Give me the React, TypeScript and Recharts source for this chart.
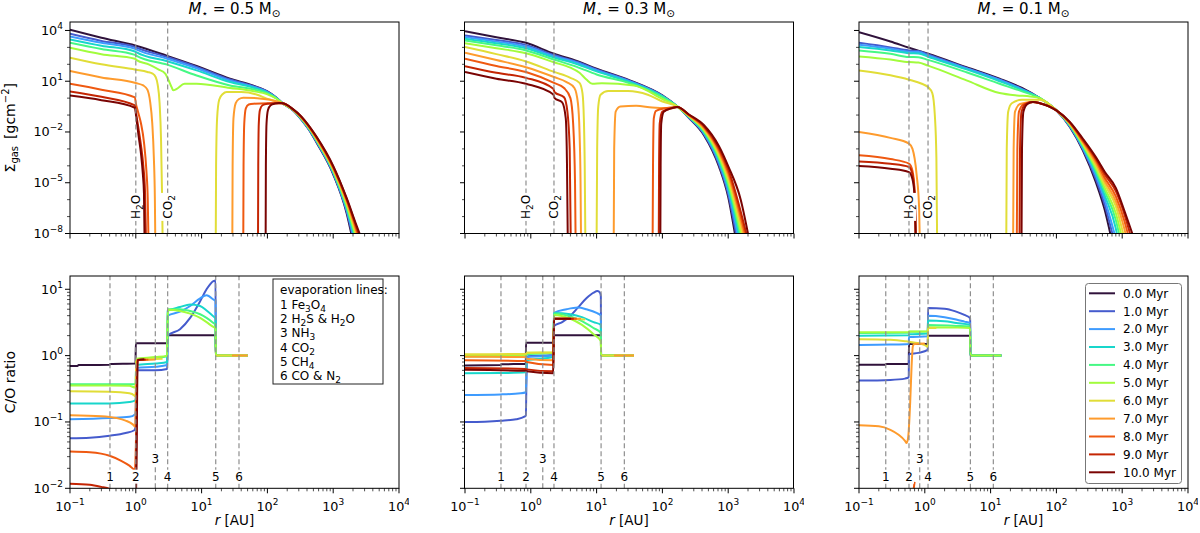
import React from 'react';
import { Legend, Line, LineChart, ReferenceLine, XAxis, YAxis } from 'recharts';

const FONT = '"DejaVu Sans", sans-serif';

// turbo colormap, one colour per snapshot
const COLORS = ['#30123b', '#455bcd', '#3e9bfe', '#18d6cb', '#46f884', '#a2fc3c', '#e1dd37', '#fe9b2d', '#ef5911', '#c42503', '#7a0403'];
const TIMES = ['0.0 Myr', '1.0 Myr', '2.0 Myr', '3.0 Myr', '4.0 Myr', '5.0 Myr', '6.0 Myr', '7.0 Myr', '8.0 Myr', '9.0 Myr', '10.0 Myr'];
const MASSES = ['0.5', '0.3', '0.1'];

// evaporation lines (AU) per stellar mass: Fe3O4, H2S&H2O, NH3, CO2, CH4, CO&N2
const EVAP_05 = [0.405, 1.0, 1.98, 3.05, 16.4, 37];
const EVAP_03 = [0.352, 0.845, 1.52, 2.25, 11.7, 26.4];
const EVAP_01 = [0.255, 0.575, 0.837, 1.12, 4.93, 11.0];
const EVAP_NAMES = ['Fe_3O_4', 'H_2S & H_2O', 'NH_3', 'CO_2', 'CH_4', 'CO & N_2'];

// Sigma_gas, stored as [r (AU), log10 Sigma]; null = gap
const SIGMA_05 = [
  [[0.1, 4.04], [0.3, 3.57], [1, 3.1], [3, 2.5], [8.4, 1.9], [27, 1.15], [60, 0.75], [100, 0.4], [135, 0.05], [170, -0.3], [250, -0.75], [316, -1.2], [450, -2.0], [563, -2.65], [1000, -4.5], [1600, -6.8], [1930, -8.2]],
  [[0.1, 3.8], [0.3, 3.38], [0.97, 3.02], [1.03, 2.98], [3, 2.43], [8.4, 1.85], [27, 1.1], [60, 0.72], [100, 0.38], [135, 0.04], [170, -0.3], [250, -0.74], [316, -1.18], [450, -1.97], [563, -2.61], [1000, -4.45], [1600, -6.7], [1990, -8.2]],
  [[0.1, 3.65], [0.3, 3.27], [0.97, 2.92], [1.03, 2.87], [3, 2.33], [8.4, 1.77], [27, 1.03], [60, 0.68], [100, 0.36], [135, 0.03], [170, -0.3], [250, -0.74], [316, -1.16], [450, -1.95], [563, -2.58], [1000, -4.4], [1600, -6.6], [2050, -8.2]],
  [[0.1, 3.47], [0.3, 3.1], [0.97, 2.76], [1.03, 2.7], [3, 2.18], [8.4, 1.64], [27, 0.95], [60, 0.63], [100, 0.33], [135, 0.02], [170, -0.3], [250, -0.73], [316, -1.15], [450, -1.92], [563, -2.54], [1000, -4.35], [1600, -6.5], [2110, -8.2]],
  [[0.1, 3.27], [0.3, 2.9], [0.97, 2.56], [1.03, 2.5], [3, 1.98], [8.4, 1.34], [27, 0.75], [60, 0.52], [100, 0.28], [135, 0.0], [170, -0.3], [250, -0.72], [316, -1.13], [450, -1.9], [563, -2.51], [1000, -4.3], [1600, -6.4], [2170, -8.2]],
  [[0.1, 2.98], [0.3, 2.6], [0.97, 2.33], [1.03, 2.25], [1.6, 1.98], [2.2, 1.7], [2.8, 1.45], [3.2, 1.0], [3.5, 0.65], [3.7, 0.46], [4.2, 0.55], [5.5, 0.85], [8.4, 0.85], [27, 0.6], [60, 0.42], [100, 0.22], [135, -0.02], [170, -0.3], [250, -0.72], [316, -1.11], [450, -1.87], [563, -2.47], [1000, -4.25], [1600, -6.3], [2230, -8.2]],
  [[0.1, 2.39], [0.3, 2.0], [1, 1.68], [1.5, 1.55], [1.8, 1.45], [2.0, 1.25], [2.15, 0.8], [2.3, -0.3], [2.42, -2.5], [2.5, -5.5], [2.56, -8.5], [8, null], [16.4, -8.5], [16.6, -4], [17.2, -1.2], [18.5, -0.1], [21, 0.25], [24, 0.36], [40, 0.36], [70, 0.2], [98, -0.03], [170, -0.3], [250, -0.71], [316, -1.09], [450, -1.85], [563, -2.44], [1000, -4.2], [1600, -6.2], [2300, -8.2]],
  [[0.1, 1.6], [0.3, 1.22], [1, 0.89], [1.3, 0.75], [1.5, 0.5], [1.65, -0.2], [1.78, -1.5], [1.88, -3.5], [1.95, -6], [1.98, -8.5], [8, null], [29.3, -8.5], [29.6, -4], [30.5, -1.2], [33, -0.3], [37, -0.05], [43, 0.03], [70, 0.0], [110, -0.1], [170, -0.3], [250, -0.7], [316, -1.08], [450, -1.82], [563, -2.4], [1000, -4.15], [1600, -6.1], [2370, -8.2]],
  [[0.1, 0.85], [0.3, 0.5], [0.97, 0.05], [1.0, -0.3], [1.08, -0.8], [1.2, -1.5], [1.33, -2.6], [1.45, -4.3], [1.52, -6], [1.56, -8.5], [8, null], [43, -8.5], [43.4, -4], [44.5, -1.5], [47, -0.6], [52, -0.38], [62, -0.33], [100, -0.3], [170, -0.3], [250, -0.7], [316, -1.06], [450, -1.8], [563, -2.37], [1000, -4.1], [1600, -6.0], [2440, -8.2]],
  [[0.1, 0.4], [0.3, 0.08], [0.97, -0.43], [1.02, -1.0], [1.1, -1.8], [1.2, -2.8], [1.3, -4.0], [1.38, -5.5], [1.43, -8.5], [8, null], [72, -8.5], [72.6, -4], [74, -1.5], [77, -0.7], [84, -0.42], [100, -0.33], [130, -0.3], [170, -0.3], [250, -0.69], [316, -1.04], [450, -1.77], [563, -2.33], [1000, -4.05], [1600, -5.95], [2530, -8.2]],
  [[0.1, 0.15], [0.3, -0.12], [0.97, -0.57], [1.02, -1.2], [1.1, -2.2], [1.2, -3.3], [1.28, -4.5], [1.33, -5.6], [1.36, -8.5], [8, null], [94, -8.5], [94.8, -4], [97, -1.5], [102, -0.7], [112, -0.42], [130, -0.32], [150, -0.29], [170, -0.3], [250, -0.68], [316, -1.02], [450, -1.75], [563, -2.3], [1000, -4.0], [1600, -5.9], [2200, -7.4], [2630, -8.2]],
];

const SIGMA_03 = [
  [[0.1, 3.96], [0.3, 3.6], [0.845, 3.27], [2.25, 2.62], [5, 2.2], [10, 1.74], [32, 1.05], [100, 0.16], [169, -0.5], [250, -1.15], [430, -2.2], [725, -4.05], [1000, -5.85], [1300, -8.3]],
  [[0.1, 3.7], [0.3, 3.43], [0.845, 3.15], [2.25, 2.55], [5, 2.15], [10, 1.7], [32, 1.02], [100, 0.14], [169, -0.5], [250, -1.13], [430, -2.14], [725, -3.93], [1000, -5.66], [1360, -8.3]],
  [[0.1, 3.61], [0.3, 3.34], [0.845, 3.05], [2.25, 2.48], [5, 2.1], [10, 1.65], [32, 0.99], [100, 0.12], [169, -0.5], [250, -1.11], [430, -2.08], [725, -3.8], [1000, -5.47], [1430, -8.3]],
  [[0.1, 3.51], [0.3, 3.24], [0.845, 2.95], [2.25, 2.4], [5, 2.02], [10, 1.58], [32, 0.95], [100, 0.1], [169, -0.5], [250, -1.09], [430, -2.02], [725, -3.68], [1000, -5.28], [1500, -8.3]],
  [[0.1, 3.41], [0.3, 3.12], [0.845, 2.82], [2.25, 2.28], [5, 1.85], [10, 1.4], [32, 0.88], [100, 0.06], [169, -0.5], [250, -1.07], [430, -1.96], [725, -3.56], [1000, -5.1], [1570, -8.3]],
  [[0.1, 3.25], [0.3, 2.95], [0.845, 2.65], [2.25, 2.12], [4, 1.8], [5.5, 1.5], [7, 1.1], [8.6, 0.85], [12, 0.88], [37, 0.75], [100, -0.05], [169, -0.5], [250, -1.05], [430, -1.9], [725, -3.44], [1000, -4.92], [1640, -8.3]],
  [[0.1, 3.02], [0.3, 2.6], [0.845, 2.17], [2.25, 1.55], [4, 1.2], [5.5, 0.9], [6.1, 0.3], [6.4, -1.2], [6.6, -4], [6.75, -8.5], [8, null], [10, -8.5], [10.2, -3], [10.6, -0.5], [11.5, 0.2], [15, 0.42], [30, 0.42], [60, 0.2], [100, -0.2], [169, -0.5], [250, -1.03], [430, -1.84], [725, -3.32], [1000, -4.74], [1720, -8.3]],
  [[0.1, 2.68], [0.3, 2.25], [0.845, 1.83], [2.25, 1.25], [3.5, 0.95], [4.6, 0.6], [5.2, -0.3], [5.5, -2], [5.7, -5], [5.8, -8.5], [8, null], [18.2, -8.5], [18.5, -3], [19.5, -0.8], [23, -0.5], [40, -0.45], [70, -0.55], [120, -0.58], [169, -0.52], [250, -1.01], [430, -1.78], [725, -3.2], [1000, -4.56], [1800, -8.3]],
  [[0.1, 2.33], [0.3, 1.9], [0.845, 1.54], [2.25, 0.9], [3.2, 0.6], [4.0, 0.0], [4.4, -1.5], [4.7, -5], [4.8, -8.5], [8, null], [71, -8.5], [72, -4], [74, -1.2], [80, -0.75], [110, -0.6], [142, -0.56], [169, -0.52], [250, -0.99], [430, -1.72], [725, -3.08], [1000, -4.38], [1880, -8.3]],
  [[0.1, 1.89], [0.3, 1.5], [0.845, 1.2], [2.2, 0.55], [2.3, 0.35], [3.2, 0.05], [3.6, -0.8], [3.9, -3], [4.05, -8.5], [8, null], [88, -8.5], [89, -4], [91, -1.5], [100, -0.8], [142, -0.58], [169, -0.52], [250, -0.97], [430, -1.66], [725, -2.96], [1000, -4.2], [1970, -8.3]],
  [[0.1, 1.54], [0.3, 1.15], [0.845, 0.85], [2.2, 0.22], [2.3, 0.0], [3.0, -0.25], [3.4, -1.2], [3.55, -4], [3.65, -8.5], [8, null], [93, -8.5], [94, -4], [96, -1.5], [105, -0.8], [142, -0.58], [169, -0.52], [250, -0.95], [430, -1.6], [725, -2.84], [1000, -4.02], [1550, -6.0], [2070, -8.3]],
];

const SIGMA_01 = [
  [[0.1, 3.9], [0.3, 3.35], [0.575, 2.98], [1.12, 2.62], [4.3, 1.83], [13.7, 1.15], [30, 0.6], [56, 0.0], [100, -0.72], [160, -1.7], [253, -3.1], [400, -5.0], [542, -6.6], [685, -8.3]],
  [[0.1, 3.27], [0.3, 3.0], [0.575, 2.82], [0.8, 2.78], [1.12, 2.58], [4.3, 1.79], [13.7, 1.1], [30, 0.55], [56, 0.0], [100, -0.72], [160, -1.67], [253, -3.03], [400, -4.8], [542, -6.3], [740, -8.3]],
  [[0.1, 3.15], [0.3, 2.92], [0.575, 2.74], [0.8, 2.72], [1.12, 2.52], [4.3, 1.76], [13.7, 1.07], [30, 0.52], [56, 0.0], [100, -0.72], [160, -1.64], [253, -2.96], [400, -4.6], [542, -6.0], [800, -8.3]],
  [[0.1, 3.02], [0.3, 2.82], [0.575, 2.66], [0.8, 2.64], [1.12, 2.45], [4.3, 1.7], [13.7, 1.0], [30, 0.48], [56, 0.0], [100, -0.72], [160, -1.61], [253, -2.89], [400, -4.45], [542, -5.75], [800, -7.7], [860, -8.3]],
  [[0.1, 2.82], [0.3, 2.62], [0.575, 2.43], [0.8, 2.42], [1.12, 2.26], [4.3, 1.53], [13.7, 0.85], [30, 0.4], [56, 0.0], [100, -0.72], [160, -1.58], [253, -2.82], [400, -4.3], [542, -5.5], [800, -7.2], [930, -8.3]],
  [[0.1, 2.46], [0.3, 2.28], [0.575, 2.13], [0.8, 2.1], [1.12, 1.92], [4.3, 1.05], [13.7, 0.3], [25, 0.16], [40, 0.1], [56, 0.0], [100, -0.72], [160, -1.55], [253, -2.75], [400, -4.15], [542, -5.3], [800, -6.8], [1000, -8.3]],
  [[0.1, 1.64], [0.3, 1.35], [0.575, 1.09], [0.9, 0.85], [1.12, 0.65], [1.3, 0.3], [1.42, -1.0], [1.5, -3.5], [1.54, -8.5], [5, null], [17.3, -8.5], [17.6, -3], [18.5, -0.8], [21, -0.3], [30, -0.1], [56, -0.1], [100, -0.72], [160, -1.52], [253, -2.68], [400, -4.0], [542, -5.1], [800, -6.4], [1080, -8.3]],
  [[0.1, -2.0], [0.3, -2.35], [0.575, -2.69], [0.65, -3.0], [0.75, -4.5], [0.82, -6.5], [0.84, -8.5], [5, null], [22, -8.5], [22.4, -3], [23.5, -0.8], [28, -0.35], [44, -0.23], [56, -0.3], [100, -0.72], [160, -1.49], [253, -2.61], [400, -3.85], [542, -4.9], [800, -6.1], [1090, -7.8], [1170, -8.3]],
  [[0.1, -3.38], [0.3, -3.6], [0.575, -3.87], [0.65, -4.3], [0.7, -5.5], [0.73, -8.5], [5, null], [25, -8.5], [25.5, -3], [27, -0.8], [32, -0.35], [44, -0.23], [56, -0.3], [100, -0.72], [160, -1.46], [253, -2.54], [400, -3.7], [542, -4.7], [800, -5.8], [1090, -7.3], [1270, -8.3]],
  [[0.1, -3.74], [0.3, -3.88], [0.575, -4.07], [0.65, -4.5], [0.7, -5.6], [0.73, -8.5], [5, null], [27.5, -8.5], [28, -3], [29.5, -0.8], [34, -0.35], [44, -0.23], [56, -0.3], [100, -0.72], [160, -1.43], [253, -2.47], [400, -3.6], [542, -4.5], [800, -5.5], [1090, -6.9], [1380, -8.3]],
  [[0.1, -4.01], [0.3, -4.17], [0.575, -4.37], [0.65, -4.8], [0.7, -5.8], [0.73, -8.5], [5, null], [29.5, -8.5], [30, -3], [31.5, -0.8], [36, -0.35], [44, -0.23], [56, -0.3], [100, -0.72], [160, -1.4], [253, -2.4], [400, -3.5], [542, -4.35], [800, -5.3], [1090, -6.7], [1510, -8.3]],
];

// C/O ratio, stored as [r (AU), C/O]; null = gap
const CO_05 = [
  [[0.1, 0.7], [0.13, 0.7], [0.135, 0.72], [0.4, 0.73], [0.41, 0.75], [0.99, 0.76], [1.0, 1.53], [3.04, 1.53], [3.05, 2.03], [16.3, 2.03], [16.4, 1.0], [50, 1.0]],
  [[0.1, 0.057], [0.2, 0.058], [0.4, 0.062], [0.7, 0.068], [0.95, 0.075], [0.99, 0.085], [1.01, 0.3], [1.03, 0.6], [2.0, 0.6], [3.0, 0.63], [3.05, 2.0], [4.7, 2.5], [6.7, 3.7], [9.5, 6.6], [11.9, 10], [15.1, 13.3], [16.3, 13.6], [16.4, 1.0], [50, 1.0]],
  [[0.1, 0.11], [0.4, 0.115], [0.8, 0.12], [0.97, 0.13], [1.0, 0.15], [1.02, 0.65], [2.0, 0.68], [3.0, 0.72], [3.05, 4.0], [4.7, 4.6], [6.7, 5.6], [9.5, 7.3], [11.9, 8.1], [15.1, 7.0], [16.3, 6.6], [16.4, 1.0], [50, 1.0]],
  [[0.1, 0.19], [0.4, 0.19], [0.8, 0.2], [0.97, 0.21], [1.0, 0.23], [1.02, 0.72], [2.0, 0.76], [3.0, 0.8], [3.05, 4.7], [4.7, 5.4], [6.7, 5.9], [9.5, 5.6], [11.9, 4.8], [15.1, 3.9], [16.3, 3.6], [16.4, 1.0], [50, 1.0]],
  [[0.1, 0.37], [0.4, 0.37], [0.8, 0.37], [0.99, 0.37], [1.02, 0.88], [2.0, 0.92], [3.0, 0.98], [3.05, 5.0], [4.7, 5.0], [6.7, 4.7], [9.5, 4.2], [11.9, 3.7], [15.1, 3.1], [16.3, 2.9], [16.4, 1.0], [50, 1.0]],
  [[0.1, 0.355], [0.4, 0.355], [0.8, 0.35], [0.99, 0.33], [1.02, 0.9], [2.0, 0.95], [3.0, 1.0], [3.05, 4.9], [4.7, 4.7], [6.7, 4.3], [9.5, 3.7], [11.9, 3.2], [15.1, 2.7], [16.3, 2.6], [16.4, 1.0], [50, 1.0]],
  [[0.1, 0.29], [0.4, 0.285], [0.8, 0.27], [0.95, 0.25], [0.99, 0.24], [1.02, 0.86], [2.55, 0.9], [8, null], [16.4, 1.0], [50, 1.0]],
  [[0.1, 0.126], [0.3, 0.122], [0.5, 0.115], [0.7, 0.105], [0.9, 0.092], [0.98, 0.085], [1.0, 0.2], [1.03, 0.85], [1.98, 0.87], [8, null], [29, 1.0], [50, 1.0]],
  [[0.1, 0.036], [0.2, 0.035], [0.4, 0.031], [0.6, 0.026], [0.8, 0.022], [0.97, 0.019], [1.02, 0.1], [1.06, 0.85], [1.55, 0.87]],
  [[0.1, 0.0117], [0.2, 0.0113], [0.3, 0.0105], [0.4, 0.0098], [0.6, 0.008], [1.0, 0.006], [1.05, 0.85], [1.42, 0.87]],
  [[0.1, 0.005], [1.0, 0.004], [1.07, 0.86], [1.35, 0.88]],
];

const CO_03 = [
  [[0.1, 0.71], [0.35, 0.72], [0.355, 0.74], [0.84, 0.75], [0.845, 1.56], [2.24, 1.56], [2.25, 2.03], [11.6, 2.03], [11.7, 1.0], [37, 1.0]],
  [[0.1, 0.1], [0.2, 0.101], [0.35, 0.104], [0.6, 0.11], [0.8, 0.12], [0.84, 0.125], [0.87, 0.8], [0.9, 0.98], [1.5, 1.0], [2.2, 1.02], [2.25, 2.8], [3, 3.2], [4, 4.0], [5.2, 5.3], [7, 7.3], [9, 8.9], [10.3, 9.4], [11.3, 8.8], [11.6, 7.9], [11.7, 1.0], [37, 1.0]],
  [[0.1, 0.255], [0.35, 0.26], [0.7, 0.27], [0.84, 0.28], [0.87, 0.8], [0.9, 0.95], [2.2, 1.0], [2.25, 4.4], [3.5, 5.0], [5.2, 5.3], [7, 5.0], [10, 4.4], [11.6, 4.0], [11.7, 1.0], [37, 1.0]],
  [[0.1, 0.54], [0.35, 0.545], [0.84, 0.56], [0.87, 0.85], [2.2, 0.95], [2.25, 4.4], [4, 4.2], [6, 3.8], [9, 3.2], [11.6, 2.9], [11.7, 1.0], [37, 1.0]],
  [[0.1, 0.97], [0.84, 0.98], [0.87, 1.05], [2.2, 1.1], [2.25, 4.3], [4, 3.9], [6, 3.3], [9, 2.6], [11.6, 2.2], [11.7, 1.0], [37, 1.0]],
  [[0.1, 1.0], [0.84, 1.02], [0.87, 1.1], [2.2, 1.1], [2.25, 4.1], [4, 3.6], [6, 2.9], [9, 2.1], [11.6, 1.66], [11.7, 1.0], [37, 1.0]],
  [[0.1, 1.05], [0.84, 1.06], [0.87, 1.1], [2.2, 1.12], [2.25, 3.6], [4, 3.6], [6.7, 3.5], [9, null], [11.7, 1.0], [37, 1.0]],
  [[0.1, 0.96], [0.84, 0.95], [0.87, 0.9], [2.2, 0.85], [2.25, 3.6], [5.8, 3.6], [9, null], [18.4, 1.0], [37, 1.0]],
  [[0.1, 0.85], [0.84, 0.83], [0.87, 0.8], [2.2, 0.72], [2.25, 3.6], [5.0, 3.6]],
  [[0.1, 0.65], [0.84, 0.63], [0.87, 0.62], [2.2, 0.58], [2.25, 3.6], [4.5, 3.6]],
  [[0.1, 0.61], [0.84, 0.59], [0.87, 0.58], [2.2, 0.54], [2.25, 3.6], [4.1, 3.6]],
];

const CO_01 = [
  [[0.1, 0.73], [0.25, 0.73], [0.26, 0.75], [0.57, 0.75], [0.575, 1.49], [1.11, 1.49], [1.12, 2.0], [4.9, 2.0], [4.93, 1.0], [14.6, 1.0]],
  [[0.1, 0.42], [0.3, 0.43], [0.5, 0.45], [0.57, 0.47], [0.575, 1.05], [0.8, 1.1], [1.11, 1.22], [1.12, 5.2], [2, 5.1], [3, 4.6], [4, 4.1], [4.9, 3.66], [4.93, 1.0], [14.6, 1.0]],
  [[0.1, 1.45], [0.3, 1.47], [0.57, 1.5], [0.575, 1.9], [1.11, 1.95], [1.12, 4.0], [2, 3.8], [3, 3.5], [4, 3.25], [4.9, 3.08], [4.93, 1.0], [14.6, 1.0]],
  [[0.1, 2.0], [0.57, 2.02], [0.575, 2.1], [1.11, 2.15], [1.12, 3.37], [2, 3.3], [3, 3.1], [4.9, 2.9], [4.93, 1.0], [14.6, 1.0]],
  [[0.1, 2.2], [0.57, 2.22], [0.575, 2.28], [1.11, 2.3], [1.12, 2.9], [3, 2.8], [4.9, 2.74], [4.93, 1.0], [14.6, 1.0]],
  [[0.1, 2.25], [0.57, 2.27], [0.575, 2.3], [1.11, 2.32], [1.12, 2.68], [3, 2.65], [4.9, 2.6], [4.93, 1.0], [14.6, 1.0]],
  [[0.1, 1.77], [0.3, 1.73], [0.5, 1.65], [0.57, 1.62], [0.6, 1.6], [0.9, 1.5], [1.05, 1.4], [1.11, 1.35], [1.12, 2.6], [1.5, 2.6]],
  [[0.1, 0.089], [0.2, 0.086], [0.3, 0.076], [0.4, 0.064], [0.5, 0.052], [0.53, 0.048], [0.56, 0.06], [0.6, 0.2], [0.63, 0.7], [0.66, 1.4], [0.7, 1.5], [1.0, 1.52]],
  [[0.64, 0.006], [0.67, 0.009], [0.7, 0.0125]],
  [],
  [],
];

// axis ticks
const X_MAJOR = [0.1, 1, 10, 100, 1000, 10000];
const X_TICKS = [...X_MAJOR, ...[0.1, 1, 10, 100, 1000].flatMap((d) => [2, 3, 4, 5, 6, 7, 8, 9].map((k) => k * d))];
const SIG_MAJOR = [1e-8, 1e-5, 1e-2, 10, 1e4];
const SIG_TICKS = [...SIG_MAJOR, 1e-7, 1e-6, 1e-4, 1e-3, 0.1, 1, 100, 1000];
const CO_MAJOR = [0.01, 0.1, 1, 10];
const CO_TICKS = [...CO_MAJOR, ...[0.01, 0.1, 1].flatMap((d) => [2, 3, 4, 5, 6, 7, 8, 9].map((k) => k * d))];

// layout
const COL_X = [70, 464.5, 859];
const ROW_Y = [22, 276];
const PLOT_W = 329;
const PLOT_H = [211.5, 212.3];

const toRows = (pts: any[], logValues: boolean) =>
  pts.map(([r, v]) => ({ r, v: v == null ? null : logValues ? Math.pow(10, v) : v }));

const expText = (v: number) => {
  const e = Math.round(Math.log10(v));
  return e < 0 ? '\u2212' + -e : String(e);
};

const chem = (s: string) => {
  const parts = s.split(/(_\d)/).filter(Boolean);
  return parts.map((p, i) =>
    p.startsWith('_') ? (
      <tspan key={i} dy={3} fontSize={9}>{p.slice(1)}</tspan>
    ) : (
      <tspan key={i} dy={i > 0 && parts[i - 1].startsWith('_') ? -3 : 0}>{p}</tspan>
    ),
  );
};

const XTick = (props: any) => {
  const { x, y, payload, showLabel } = props;
  const major = X_MAJOR.includes(payload.value);
  return (
    <g>
      <line x1={x} x2={x} y1={y} y2={y + (major ? 5 : 3)} stroke="#000" strokeWidth={major ? 1 : 0.7} />
      {major && showLabel && (
        <text x={x} y={y + 22.4} textAnchor="middle" fontSize={12.8} fontFamily={FONT} fill="#000">
          10<tspan dy={-6} fontSize={9}>{expText(payload.value)}</tspan>
        </text>
      )}
    </g>
  );
};

const YTick = (props: any) => {
  const { x, y, payload, showLabel, majors } = props;
  const major = majors.includes(payload.value);
  return (
    <g>
      <line x1={x} x2={x - (major ? 5 : 3)} y1={y} y2={y} stroke="#000" strokeWidth={major ? 1 : 0.7} />
      {major && showLabel && (
        <text x={x - 7} y={y + 4.5} textAnchor="end" fontSize={12.8} fontFamily={FONT} fill="#000">
          10<tspan dy={-6} fontSize={9}>{expText(payload.value)}</tspan>
        </text>
      )}
    </g>
  );
};

const LineTag = (props: any) => {
  const { viewBox, text, lift, vertical } = props;
  if (!viewBox) return null;
  const x = viewBox.x;
  const cy = viewBox.y + viewBox.height - lift;
  if (vertical) {
    return (
      <g transform={`translate(${x},${cy}) rotate(-90)`}>
        <rect x={-14} y={-7} width={28} height={14} fill="#fff" />
        <text x={0} y={4.3} textAnchor="middle" fontSize={12} fontFamily={FONT} fill="#000">{chem(text)}</text>
      </g>
    );
  }
  return (
    <g>
      <rect x={x - 5} y={cy - 7} width={10} height={14} fill="#fff" />
      <text x={x} y={cy + 4.3} textAnchor="middle" fontSize={12} fontFamily={FONT} fill="#000">{text}</text>
    </g>
  );
};

const TimeLegend = (props: any) => {
  const items = [...(props.payload || [])].sort((a, b) => TIMES.indexOf(a.value) - TIMES.indexOf(b.value));
  return (
    <svg width={97} height={201} style={{ display: 'block' }}>
      <rect x={0.5} y={0.5} width={96} height={200} rx={3} fill="#fff" stroke="#777" />
      {items.map((it, i) => (
        <g key={it.value}>
          <line x1={4} x2={30} y1={10.3 + i * 17.9} y2={10.3 + i * 17.9} stroke={it.color} strokeWidth={2} />
          <text x={38} y={14.6 + i * 17.9} fontSize={12} fontFamily={FONT} fill="#000">{it.value}</text>
        </g>
      ))}
    </svg>
  );
};

const Panel = ({ col, row, series, evap }: any) => {
  const isTop = row === 0;
  const left = COL_X[col] - 60;
  const top = ROW_Y[row] - 10;
  const refs = isTop ? [evap[1], evap[3]] : evap;
  return (
    <div style={{ position: 'absolute', left, top }}>
      <LineChart width={PLOT_W + 70} height={PLOT_H[row] + 50} margin={{ top: 10, right: 10, bottom: 0, left: 0 }}>
        <XAxis
          type="number"
          dataKey="r"
          scale="log"
          domain={[0.1, 10000]}
          allowDataOverflow
          ticks={X_TICKS}
          interval={0}
          tickSize={0}
          tickMargin={0}
          tickLine={false}
          axisLine={false}
          height={40}
          tick={<XTick showLabel={!isTop} />}
        />
        <YAxis
          type="number"
          scale="log"
          domain={isTop ? [1e-8, Math.pow(10, 4.5)] : [0.01, Math.pow(10, 1.2)]}
          allowDataOverflow
          ticks={isTop ? SIG_TICKS : CO_TICKS}
          interval={0}
          tickSize={0}
          tickMargin={0}
          tickLine={false}
          axisLine={false}
          width={60}
          tick={<YTick showLabel={col === 0} majors={isTop ? SIG_MAJOR : CO_MAJOR} />}
        />
        {series.map((pts: any[], i: number) => (
          <Line
            key={TIMES[i]}
            name={TIMES[i]}
            data={toRows(pts, isTop)}
            dataKey="v"
            type="monotone"
            stroke={COLORS[i]}
            strokeWidth={2}
            dot={false}
            activeDot={false}
            isAnimationActive={false}
          />
        ))}
        {refs.map((r: number, i: number) => (
          <ReferenceLine
            key={'ref' + i}
            x={r}
            stroke="#8f8f8f"
            strokeWidth={1.2}
            strokeDasharray="5 3"
            label={
              isTop ? (
                <LineTag text={i === 0 ? 'H_2O' : 'CO_2'} lift={26.6} vertical />
              ) : (
                <LineTag text={String(i + 1)} lift={i === 2 ? 30 : 11.6} />
              )
            }
          />
        ))}
        {row === 1 && col === 2 && (
          <Legend
            layout="vertical"
            align="center"
            verticalAlign="middle"
            content={<TimeLegend />}
            wrapperStyle={{ left: 1085 - left, top: 283 - top, width: 97, height: 201 }}
          />
        )}
      </LineChart>
    </div>
  );
};

const Overlay = () => (
  <svg width={1200} height={533} style={{ position: 'absolute', left: 0, top: 0, pointerEvents: 'none' }}>
    {[0, 1].map((row) =>
      COL_X.map((x) => (
        <rect key={row + '-' + x} x={x} y={ROW_Y[row]} width={PLOT_W} height={PLOT_H[row]} fill="none" stroke="#000" strokeWidth={1} />
      )),
    )}
    {MASSES.map((m, c) => (
      <text key={m} x={COL_X[c] + PLOT_W / 2} y={14} textAnchor="middle" fontSize={15} fontFamily={FONT} fill="#000">
        <tspan fontStyle="italic">M</tspan>
        <tspan dy={3} fontSize={10.5}>{'\u22C6'}</tspan>
        <tspan dy={-3}>{' = ' + m + ' M'}</tspan>
        <tspan dy={3} fontSize={10.5}>{'\u2299'}</tspan>
      </text>
    ))}
    {COL_X.map((x) => (
      <text key={'xl' + x} x={x + PLOT_W / 2} y={525} textAnchor="middle" fontSize={13.5} fontFamily={FONT} fill="#000">
        <tspan fontStyle="italic">r</tspan> [AU]
      </text>
    ))}
    <g transform={`translate(15,${ROW_Y[0] + PLOT_H[0] / 2}) rotate(-90)`}>
      <text x={0} y={0} textAnchor="middle" fontSize={14} fontFamily={FONT} fill="#000">
        Σ<tspan dy={3} fontSize={10}>gas</tspan>
        <tspan dy={-3}>{'\u2002[gcm'}</tspan>
        <tspan dy={-6} fontSize={10}>{'\u22122'}</tspan>
        <tspan dy={6}>]</tspan>
      </text>
    </g>
    <g transform={`translate(15,${ROW_Y[1] + PLOT_H[1] / 2}) rotate(-90)`}>
      <text x={0} y={0} textAnchor="middle" fontSize={14} fontFamily={FONT} fill="#000">C/O ratio</text>
    </g>
    <rect x={273} y={279} width={110} height={105} fill="#fff" stroke="#222" strokeWidth={1} />
    <text x={280} y={294.3} fontSize={12} fontFamily={FONT} fill="#000">evaporation lines:</text>
    {EVAP_NAMES.map((n, i) => (
      <text key={n} x={280} y={308.6 + i * 14.3} fontSize={12} fontFamily={FONT} fill="#000">
        <tspan>{i + 1 + ' '}</tspan>
        {chem(n)}
      </text>
    ))}
  </svg>
);

const PANELS = [
  { col: 0, row: 0, series: SIGMA_05, evap: EVAP_05 },
  { col: 1, row: 0, series: SIGMA_03, evap: EVAP_03 },
  { col: 2, row: 0, series: SIGMA_01, evap: EVAP_01 },
  { col: 0, row: 1, series: CO_05, evap: EVAP_05 },
  { col: 1, row: 1, series: CO_03, evap: EVAP_03 },
  { col: 2, row: 1, series: CO_01, evap: EVAP_01 },
];

const App = () => (
  <div style={{ position: 'absolute', left: 0, top: 0, width: 1200, height: 533, background: '#fff', fontFamily: FONT }}>
    {PANELS.map((p) => (
      <Panel key={p.col + '-' + p.row} {...p} />
    ))}
    <Overlay />
  </div>
);

export default App;
